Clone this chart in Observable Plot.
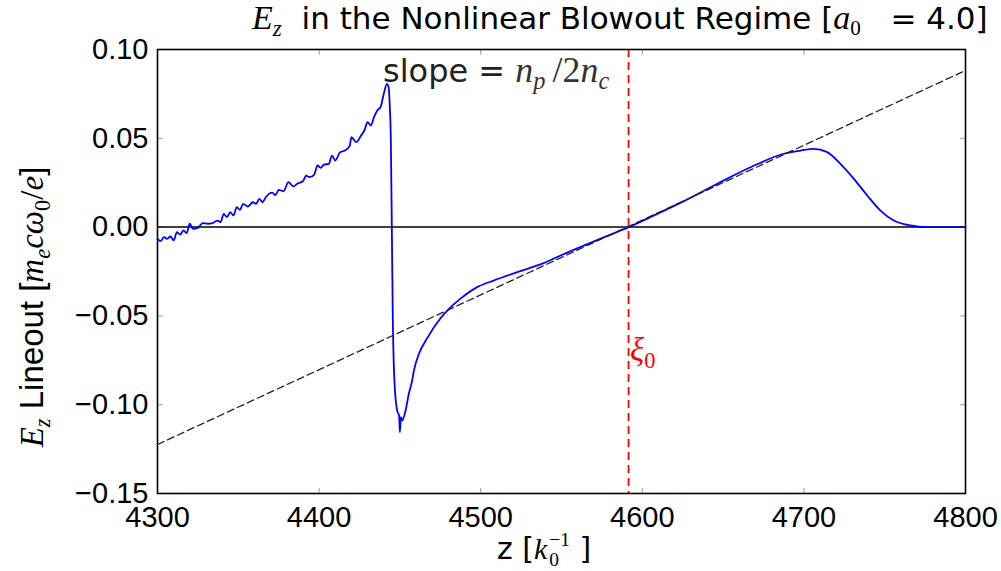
<!DOCTYPE html>
<html>
<head>
<meta charset="utf-8">
<script src="https://cdn.jsdelivr.net/npm/d3@7"></script>
<script src="https://cdn.jsdelivr.net/npm/@observablehq/plot@0.6"></script>
<style>
  html, body { margin: 0; padding: 0; background: #fff; }
  #wrap { position: relative; width: 1001px; height: 571px; overflow: hidden; }
  .lbl { position: absolute; white-space: nowrap; color: #000; font-family: "DejaVu Sans", sans-serif; font-size: 24px; line-height: 1; }
  .m { font-family: "Liberation Serif", serif; font-style: italic; }
  .mr { font-family: "Liberation Serif", serif; }
  .sub { font-size: 0.68em; position: relative; top: 0.3em; }
</style>
</head>
<body>
<div id="wrap"></div>
<script>
// ---- data ----
const zValues = [4300,4302,4304,4306,4308,4310,4312,4314,4316,4318,4320,4322,4325,4328,4331,4334,4337,4339,4341,4343,4345,4347,4349,4351,4353,4356,4359,4361,4363,4365,4367,4369,4371,4373,4375,4378,4381,4384,4387,4390,4392,4394,4397,4399,4401,4403,4406,4408,4410,4413,4416,4419,4420,4423,4426,4428,4430,4432,4434,4436,4438,4440,4442,4443,4443.7,4444.4,4445,4445.6,4446.6,4448.3,4449.5,4450,4450.6,4451.4,4453.5,4455.5,4457.6,4458.7,4461.8,4466.9,4475,4481,4487.5,4497.8,4508,4518.4,4528.8,4539,4549.4,4563.8,4575,4591.6,4605,4625.7,4646.4,4667,4687.6,4698,4706,4714.4,4722.6,4730.9,4739.2,4747.4,4755.6,4766,4776,4790,4800];
const ezValues = [-0.0066,-0.0079,-0.0057,-0.0066,-0.0053,-0.0075,-0.0029,-0.0042,-0.0019,-0.0034,0.0019,-0.001,-0.0004,0.0022,0.0019,0.0022,0.0037,0.0028,0.0075,0.0056,0.0084,0.0065,0.0112,0.0097,0.0131,0.0116,0.014,0.0131,0.0159,0.014,0.0168,0.0187,0.0194,0.018,0.021,0.0202,0.0253,0.0229,0.0247,0.0258,0.029,0.0281,0.0296,0.0347,0.0334,0.0352,0.0356,0.0403,0.0375,0.0422,0.0431,0.0459,0.0506,0.0478,0.0516,0.0544,0.0591,0.0572,0.0619,0.0657,0.0675,0.075,0.0807,0.0788,0.069,0.0488,0.0,-0.05,-0.0864,-0.1033,-0.106,-0.1155,-0.107,-0.1089,-0.1033,-0.0939,-0.0864,-0.0807,-0.0713,-0.0625,-0.0515,-0.0455,-0.0403,-0.0338,-0.0301,-0.0267,-0.0235,-0.0203,-0.016,-0.0104,-0.0062,0,0.0056,0.0146,0.0244,0.0337,0.0413,0.0431,0.0441,0.0422,0.0356,0.0272,0.0178,0.0093,0.0037,0.0009,0,0,0];
const slopeX = [4300, 4800];
const slopeY = [-0.1224, 0.0882];
const xi0 = [4591.5];
const xTicks = [4300, 4400, 4500, 4600, 4700, 4800];
const yTicks = [-0.15, -0.10, -0.05, 0.00, 0.05, 0.10];

const tickShape = { draw(ctx, l) { ctx.moveTo(0, 0); ctx.lineTo(0, -l); } };
const tickStyle = { length: 5, anchor: "start", shape: tickShape, stroke: "#999", strokeWidth: 1 };

const chart = Plot.plot({
  width: 1001, height: 571,
  marginLeft: 157, marginRight: 36, marginTop: 49, marginBottom: 78,
  x: { domain: [4300, 4800] },
  y: { domain: [-0.15, 0.10] },
  style: { fontFamily: "Liberation Sans, Arial, sans-serif", fontSize: "29px", color: "#000", background: "transparent" },
  marks: [
    Plot.axisX(xTicks, { tickSize: 0, tickPadding: 13, tickFormat: d => String(d), label: null, fontSize: 29 }),
    Plot.axisY(yTicks, { tickSize: 0, tickPadding: 9, tickFormat: d => (d < 0 ? "\u2212" + Math.abs(d).toFixed(2) : d.toFixed(2)), label: null, fontSize: 29 }),
    Plot.vectorX(xTicks, { ...tickStyle, frameAnchor: "bottom", rotate: 0 }),
    Plot.vectorX(xTicks, { ...tickStyle, frameAnchor: "top", rotate: 180 }),
    Plot.vectorY(yTicks, { ...tickStyle, frameAnchor: "left", rotate: 90 }),
    Plot.vectorY(yTicks, { ...tickStyle, frameAnchor: "right", rotate: -90 }),
    Plot.ruleY([0], { stroke: "#000", strokeWidth: 1.5 }),
    Plot.line(ezValues, { x: zValues, y: ezValues, stroke: "#0000ff", strokeWidth: 1.8, curve: "monotone-x" }),
    Plot.line(slopeY, { x: slopeX, y: slopeY, stroke: "#222", strokeWidth: 1.3, strokeDasharray: "7,4" }),
    Plot.ruleX(xi0, { stroke: "#ff0000", strokeWidth: 1.8, strokeDasharray: "8,5" }),
    Plot.frame({ stroke: "#000", strokeWidth: 1.6 })
  ]
});
chart.style.position = "absolute";
chart.style.left = "0px";
chart.style.top = "0px";
const wrap = document.getElementById("wrap");
wrap.appendChild(chart);

function addLabel(html, css) {
  const d = document.createElement("div");
  d.className = "lbl";
  d.innerHTML = html;
  Object.assign(d.style, css);
  wrap.appendChild(d);
  return d;
}
// title
addLabel('<span class="m" style="font-size:1.1em">E<span class="sub">z</span></span>&nbsp; in the Nonlinear Blowout Regime [<span class="m" style="font-size:1.1em">a</span><span class="sub mr">0</span>&nbsp;&nbsp; = 4.0]',
  { left: "252px", top: "1px", fontSize: "31px" });
// slope annotation
addLabel('slope = <span style="font-size:1.12em;color:#333"><span class="m">n<span class="sub">p</span></span><span class="mr">&thinsp;/2</span><span class="m">n<span class="sub">c</span></span></span>',
  { left: "383px", top: "52px", fontSize: "32px", color: "#222" });
// xi0
addLabel('<span class="m">ξ</span><span class="sub mr">0</span>', { left: "630px", top: "333px", fontSize: "33px", color: "#ff0000" });
// x label
addLabel('z [<span class="m">k</span><span class="mr" style="display:inline-block;vertical-align:-0.4em;line-height:1.05;font-size:0.65em;text-align:left;margin-left:2px"><span style="display:block">−1</span><span style="display:block">0</span></span> ]',
  { left: "497px", top: "530px", fontSize: "30px" });
// y label
addLabel('<span class="m">E<span class="sub">z</span></span> Lineout [<span class="m">m<span class="sub">e</span>cω<span class="sub" style="font-style:normal">0</span></span><span class="mr">/</span><span class="m">e</span>]',
  { left: "32px", top: "307px", fontSize: "33px", fontFamily: "Liberation Sans, Arial, sans-serif", transform: "translate(-50%,-50%) rotate(-90deg)" });
</script>
</body>
</html>
